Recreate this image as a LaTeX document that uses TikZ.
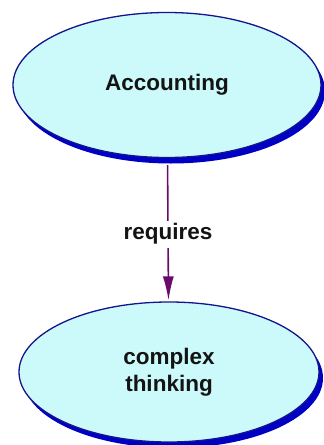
\documentclass[tikz,border=0pt]{standalone}
\usepackage{fontspec}
\setmainfont{Liberation Sans}
\usetikzlibrary{shapes.geometric,shadows,arrows.meta}

\definecolor{conceptfill}{HTML}{CCFAFA}
\definecolor{conceptline}{HTML}{14148C}
\definecolor{conceptshadow}{HTML}{0000C4}
\definecolor{linkcolor}{HTML}{6A0A6A}

\tikzset{
  concept/.style={
    ellipse, draw=conceptline, line width=1.3pt, fill=conceptfill,
    inner sep=0pt, align=center,
    font=\bfseries\fontsize{22.5}{27}\selectfont, text=black!92,
    general shadow={shadow xshift=4pt, shadow yshift=-6pt, fill=conceptshadow}
  },
  link/.style={
    draw=linkcolor, line width=1.6pt,
    -{Latex[length=24pt,width=11pt]}
  },
  linklabel/.style={
    fill=white, inner xsep=2pt, inner ysep=3pt,
    font=\bfseries\fontsize{22.5}{27}\selectfont, text=black!92
  }
}

\begin{document}
\begin{tikzpicture}[x=1pt,y=-1pt]
  \useasboundingbox[fill=white] (0,0) rectangle (324,445);

  \node[concept, minimum width=308pt, minimum height=145pt] (acc) at (167,85) {Accounting};
  \node[concept, minimum width=300pt, minimum height=140pt] (ct) at (169,372) {complex\\thinking};

  \draw[link, shorten <=7pt, shorten >=1pt] (acc) -- (ct)
    node[linklabel, pos=0.53] (req) {requires};
\end{tikzpicture}
\end{document}
